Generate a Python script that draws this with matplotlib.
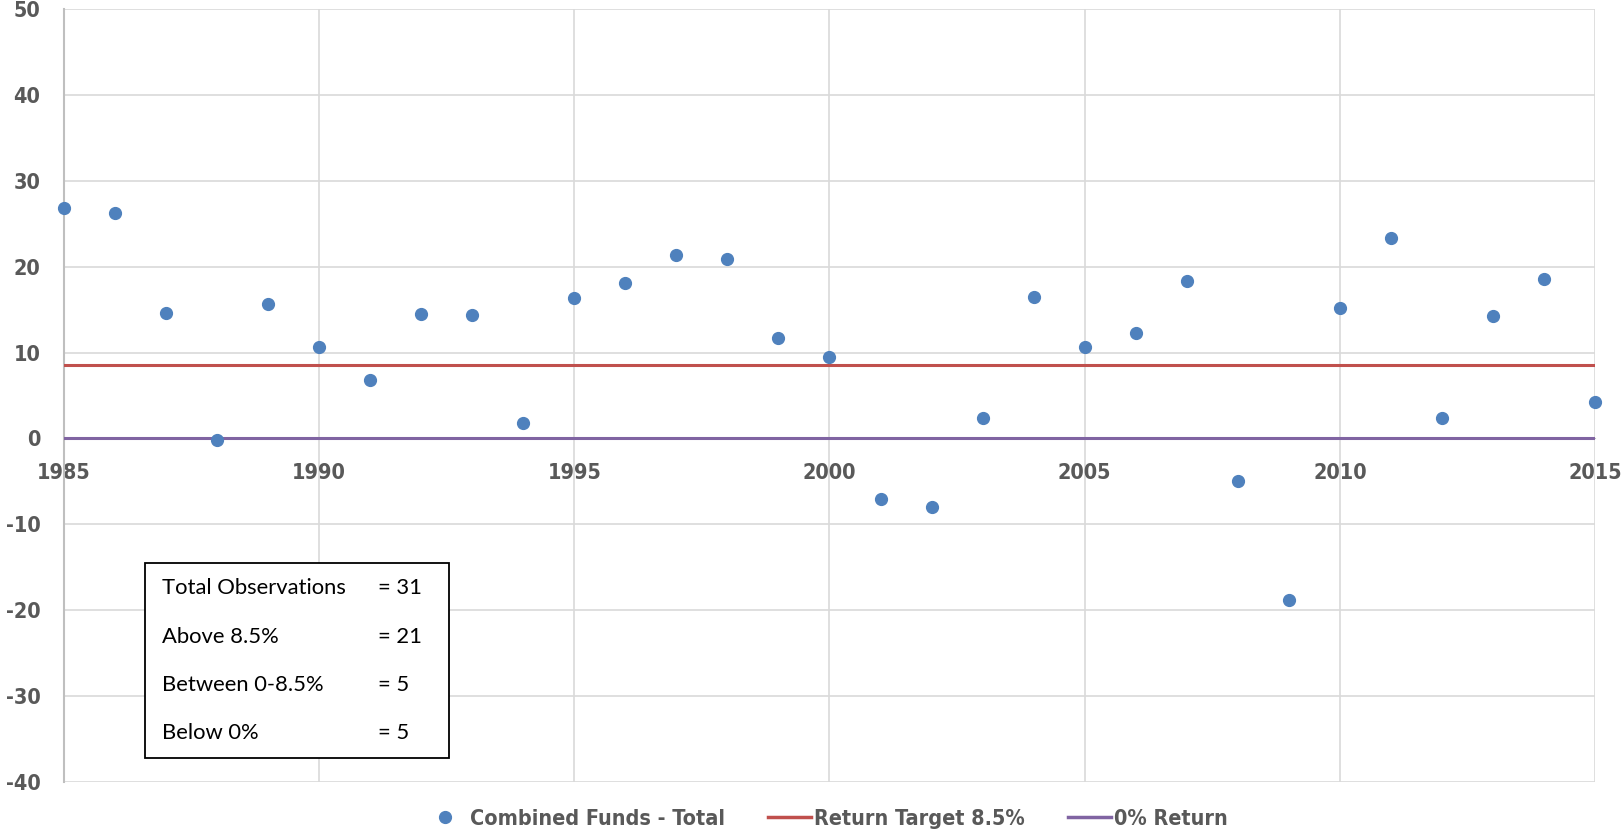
import matplotlib
matplotlib.use("Agg")
import matplotlib.pyplot as plt
from matplotlib.lines import Line2D

years = list(range(1985, 2016))
returns = [26.8, 26.2, 14.6, -0.2, 15.6, 10.6, 6.8, 14.5, 14.4, 1.8,
           16.3, 18.1, 21.4, 20.9, 11.7, 9.5, -7.1, -8.0, 2.4, 16.5,
           10.7, 12.3, 18.3, -4.9, -18.8, 15.2, 23.3, 2.4, 14.2, 18.6, 4.3]
target = 8.5
zero = 0.0
x_ticks = [1985, 1990, 1995, 2000, 2005, 2010, 2015]
y_ticks = [-40, -30, -20, -10, 0, 10, 20, 30, 40, 50]
stats_labels = ["Total Observations", "Above 8.5%", "Between 0-8.5%", "Below 0%"]
stats_values = ["= 31", "= 21", "= 5", "= 5"]
legend_labels = ["Combined Funds - Total", "Return Target 8.5%", "0% Return"]

blue = "#4F81BD"
red = "#C0504D"
purple = "#8064A2"
tick_col = "#595959"

W, H = 1622, 834
fig = plt.figure(figsize=(W/100, H/100), dpi=100)
ax = fig.add_axes([64/W, 1-782/H, (1595-64)/W, (782-9)/H])

ax.set_xlim(1985, 2015)
ax.set_ylim(-40, 50)
ax.set_xticks(x_ticks)
ax.set_xticklabels([str(v) for v in x_ticks])
ax.set_yticks(y_ticks)
ax.set_yticklabels([str(v) for v in y_ticks])
ax.grid(True, color="#D9D9D9", linewidth=1.2)
ax.set_axisbelow(True)

for s in ["top", "right"]:
    ax.spines[s].set_visible(False)
ax.spines["left"].set_color("#BFBFBF")
ax.spines["left"].set_linewidth(1.5)
ax.spines["bottom"].set_position(("data", 0))
ax.spines["bottom"].set_color("#BFBFBF")
ax.tick_params(length=0, labelcolor=tick_col)
ax.tick_params(axis="y", pad=17)
ax.tick_params(axis="x", pad=18)
for lab in ax.get_xticklabels() + ax.get_yticklabels():
    lab.set_fontproperties({"family": "DejaVu Sans", "stretch": "condensed",
                            "weight": "bold", "size": 15.5})

ax.axhline(target, color=red, linewidth=2.2, zorder=3)
ax.axhline(zero, color=purple, linewidth=2.2, zorder=3)
ax.plot(years, returns, "o", color=blue, markersize=8.5, zorder=4, clip_on=False)

# stats box
box_l, box_t, box_r, box_b = 145, 563, 449, 758
fig.patches.append(plt.Rectangle((box_l/W, 1-box_b/H), (box_r-box_l)/W, (box_b-box_t)/H,
                                 transform=fig.transFigure, facecolor="white",
                                 edgecolor="black", linewidth=1.3, zorder=5))
rows_y = [588, 637, 685, 733]
for lbl, val, yy in zip(stats_labels, stats_values, rows_y):
    fig.text(162/W, 1-yy/H, lbl, fontsize=15.8, va="center", ha="left",
             family="Lato", color="black", zorder=6)
    fig.text(378/W, 1-yy/H, val, fontsize=15.8, va="center", ha="left",
             family="Lato", color="black", zorder=6)

handles = [
    Line2D([], [], marker="o", linestyle="none", color=blue, markersize=8.5),
    Line2D([], [], color=red, linewidth=2.5),
    Line2D([], [], color=purple, linewidth=2.5),
]
leg = fig.legend(handles, legend_labels, loc="center", bbox_to_anchor=(826/W, 1-819/H),
                 ncol=3, frameon=False, handlelength=2.0, handletextpad=0.15,
                 columnspacing=2.0,
                 prop={"family": "DejaVu Sans", "stretch": "condensed",
                       "weight": "bold", "size": 15.5})
for t in leg.get_texts():
    t.set_color(tick_col)

fig.savefig("out.png", dpi=100)
